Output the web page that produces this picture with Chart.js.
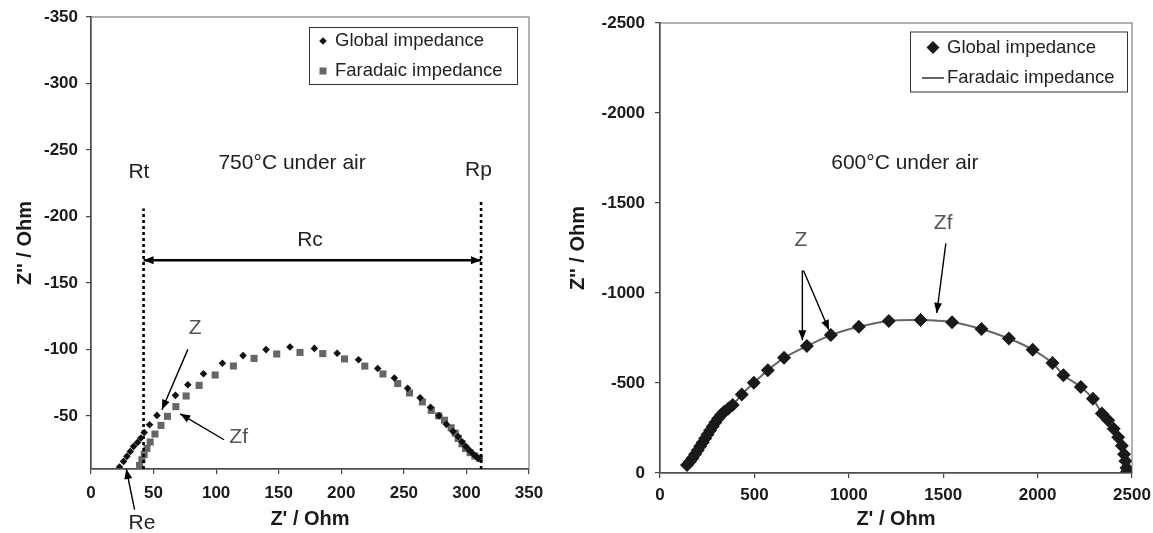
<!DOCTYPE html>
<html>
<head>
<meta charset="utf-8">
<script src="https://cdn.jsdelivr.net/npm/chart.js@4.4.1/dist/chart.umd.min.js"></script>
<style>
  html, body { margin: 0; padding: 0; background: #fff; }
  #wrap { position: relative; width: 1153px; height: 533px; }
  #left { position: absolute; left: 0; top: 0; }
  #right { position: absolute; left: 553px; top: 0; }
</style>
</head>
<body>
<div id="wrap">
  <canvas id="left" width="553" height="533"></canvas>
  <canvas id="right" width="600" height="533"></canvas>
</div>
<script>
// ---- 750°C data (Z' , Z'') ----
const globalRe750 = [22.8, 26, 28.7, 31.4, 34, 37.2, 39.9, 42.5, 46.8, 52.7, 67.5, 77.4, 89.9, 105, 121.5, 139.9, 159, 178.5, 196.7, 213.8, 229.1, 242.4, 253, 263, 271.3, 278.1, 284, 289.3, 293.4, 296.5, 299.5, 302.5, 305.2, 307.5, 309.6];
const globalIm750 = [-11.5, -15.7, -19.5, -23.2, -27, -30, -33.3, -37.5, -43.3, -50.3, -65.4, -73.4, -81.7, -89.5, -95.3, -99.8, -101.8, -100.7, -97.1, -92.2, -85.6, -78.4, -70.7, -63.6, -56.4, -50, -43.6, -38.2, -34.4, -30.5, -27, -24, -21.5, -19.5, -18];
const faraRe750 = [38.8, 40.7, 42.5, 44.7, 47.3, 51.1, 55.9, 61.1, 67.8, 76, 86.4, 99.2, 113.8, 130.3, 148.4, 167, 185.2, 202.6, 218.8, 233.3, 245.1, 254.5, 264.8, 271.9, 277.8, 282.5, 287.8, 291, 293.4, 296.4, 299.3, 302.9, 306.7, 310.5];
const faraIm750 = [-12.7, -17, -21, -25.5, -30.3, -36.3, -42.8, -49.6, -56.9, -64.9, -72.9, -80.7, -87.5, -93.2, -96.5, -97.7, -96.8, -92.8, -87.4, -81.5, -74.3, -67.2, -60.5, -54.1, -50, -46.7, -41, -37, -33, -29, -25.4, -22.3, -19.8, -18];
const xTicks750 = [0, 50, 100, 150, 200, 250, 300, 350];
const yTicks750 = [-350, -300, -250, -200, -150, -100, -50];

// ---- 600°C data ----
const globalRe600 = [143, 158, 172, 186, 200, 213, 226, 239, 252, 265, 279, 293, 308, 323, 340, 362, 385, 433, 497, 571, 657, 778, 905, 1053, 1212, 1380, 1547, 1703, 1848, 1974, 2079, 2137, 2229, 2293, 2340, 2374, 2403, 2427, 2446, 2458, 2465, 2471, 2474];
const globalIm600 = [-45, -62, -82, -104, -126, -148, -170, -192, -214, -236, -259, -281, -303, -322, -340, -358, -378, -436, -501, -571, -640, -705, -766, -812, -845, -850, -838, -800, -747, -685, -611, -543, -478, -412, -331, -293, -246, -199, -151, -104, -66, -28, -8];
const faraRe600 = [143, 200, 265, 340, 385, 433, 497, 571, 657, 778, 905, 1053, 1212, 1380, 1547, 1703, 1848, 1974, 2079, 2137, 2229, 2293, 2340, 2403, 2446, 2465, 2474];
const faraIm600 = [-45, -126, -236, -340, -378, -436, -501, -571, -640, -705, -766, -812, -845, -850, -838, -800, -747, -685, -611, -543, -478, -412, -331, -246, -151, -66, -8];
const xTicks600 = [0, 500, 1000, 1500, 2000, 2500];
const yTicks600 = [-2500, -2000, -1500, -1000, -500, 0];

const FONT = 'Arial, "Liberation Sans", sans-serif';

function toPoints(xs, ys) {
  return xs.map((v, i) => ({ x: v, y: ys[i] }));
}

function drawArrow(ctx, x1, y1, x2, y2, both) {
  ctx.beginPath();
  ctx.moveTo(x1, y1);
  ctx.lineTo(x2, y2);
  ctx.stroke();
  const head = (ax, ay, bx, by) => {
    const ang = Math.atan2(by - ay, bx - ax);
    const len = 10, w = 4;
    ctx.beginPath();
    ctx.moveTo(bx, by);
    ctx.lineTo(bx - len * Math.cos(ang) + w * Math.sin(ang), by - len * Math.sin(ang) - w * Math.cos(ang));
    ctx.lineTo(bx - len * Math.cos(ang) - w * Math.sin(ang), by - len * Math.sin(ang) + w * Math.cos(ang));
    ctx.closePath();
    ctx.fill();
  };
  head(x1, y1, x2, y2);
  if (both) head(x2, y2, x1, y1);
}

function drawMarker(ctx, m, x, y) {
  ctx.fillStyle = m.color;
  ctx.strokeStyle = m.color;
  if (m.kind === 'diamond') {
    ctx.beginPath();
    ctx.moveTo(x, y - m.size);
    ctx.lineTo(x + m.size, y);
    ctx.lineTo(x, y + m.size);
    ctx.lineTo(x - m.size, y);
    ctx.closePath();
    ctx.fill();
  } else if (m.kind === 'square') {
    ctx.fillRect(x - m.size, y - m.size, m.size * 2, m.size * 2);
  } else {
    ctx.lineWidth = 2;
    ctx.beginPath();
    ctx.moveTo(x - m.size, y);
    ctx.lineTo(x + m.size, y);
    ctx.stroke();
  }
}

// frame, dotted lines, arrows, notes and legend box
const notesPlugin = {
  id: 'notes',
  afterDatasetsDraw(chart, args, opts) {
    const { ctx, chartArea: a } = chart;
    const px = v => chart.scales.x.getPixelForValue(v);
    const py = v => chart.scales.y.getPixelForValue(v);
    ctx.save();
    ctx.strokeStyle = '#666';
    ctx.lineWidth = 1;
    ctx.strokeRect(a.left, a.top, a.right - a.left, a.bottom - a.top);

    ctx.strokeStyle = '#000';
    ctx.lineWidth = 2.6;
    ctx.setLineDash([3, 3]);
    (opts.dotted || []).forEach(d => {
      ctx.beginPath();
      ctx.moveTo(px(d.x), py(d.y1));
      ctx.lineTo(px(d.x), py(d.y2));
      ctx.stroke();
    });
    ctx.setLineDash([]);

    (opts.arrows || []).forEach(r => {
      ctx.strokeStyle = '#000';
      ctx.fillStyle = '#000';
      ctx.lineWidth = r.width || 1.4;
      drawArrow(ctx, px(r.x1), py(r.y1), px(r.x2), py(r.y2), r.both);
    });

    ctx.textAlign = 'center';
    ctx.textBaseline = 'middle';
    (opts.texts || []).forEach(t => {
      ctx.fillStyle = t.color || '#222';
      ctx.font = '21px ' + FONT;
      ctx.fillText(t.text, px(t.x), py(t.y));
    });

    const lg = opts.legend;
    if (lg) {
      const bx = a.right - lg.right - lg.width;
      const by = a.top + lg.top;
      ctx.fillStyle = '#fff';
      ctx.fillRect(bx, by, lg.width, lg.height);
      ctx.strokeStyle = '#333';
      ctx.lineWidth = 1;
      ctx.strokeRect(bx + 0.5, by + 0.5, lg.width, lg.height);
      ctx.textAlign = 'left';
      lg.rows.forEach((row, i) => {
        const ry = by + lg.rowY[i];
        drawMarker(ctx, row.marker, bx + lg.markerX, ry);
        ctx.fillStyle = '#222';
        ctx.font = '18.5px ' + FONT;
        ctx.fillText(row.label, bx + lg.textX, ry);
      });
    }
    ctx.restore();
  }
};

function makeScales(xMin, xMax, xTicks, yMin, yMax, yTicks, yWidth, xHeight, yPad, xPad) {
  const tickFont = { family: FONT, size: 17, weight: 'bold' };
  const titleFont = { family: FONT, size: 20, weight: 'bold' };
  return {
    x: {
      type: 'linear',
      position: 'bottom',
      min: xMin,
      max: xMax,
      afterBuildTicks: s => { s.ticks = xTicks.map(v => ({ value: v })); },
      afterFit: s => { s.height = xHeight; s.paddingLeft = 0; s.paddingRight = 0; },
      ticks: { font: tickFont, color: '#1a1a1a', padding: xPad, maxRotation: 0, callback: v => String(v) },
      grid: { drawOnChartArea: false, drawTicks: true, tickLength: 5, color: '#444', lineWidth: 1.2 },
      border: { color: '#333', width: 1.5 },
      title: { display: true, text: "Z' / Ohm", font: titleFont, color: '#1a1a1a', padding: { top: 0, bottom: 2 } }
    },
    y: {
      type: 'linear',
      reverse: true,
      min: yMin,
      max: yMax,
      afterBuildTicks: s => { s.ticks = yTicks.map(v => ({ value: v })); },
      afterFit: s => { s.width = yWidth; s.paddingTop = 0; s.paddingBottom = 0; },
      ticks: { font: tickFont, color: '#1a1a1a', padding: yPad, callback: v => String(v) },
      grid: { drawOnChartArea: false, drawTicks: true, tickLength: 5, color: '#444', lineWidth: 1.2 },
      border: { color: '#333', width: 1.5 },
      title: { display: true, text: "Z'' / Ohm", font: titleFont, color: '#1a1a1a', padding: { top: 13, bottom: 0 } }
    }
  };
}

// 750°C chart
new Chart(document.getElementById('left').getContext('2d'), {
  type: 'scatter',
  data: {
    datasets: [
      {
        label: 'Global impedance',
        data: toPoints(globalRe750, globalIm750),
        pointStyle: 'rectRot',
        pointRadius: 3.8,
        backgroundColor: '#111',
        borderWidth: 0
      },
      {
        label: 'Faradaic impedance',
        data: toPoints(faraRe750, faraIm750),
        pointStyle: 'rect',
        pointRadius: 5,
        backgroundColor: '#666',
        borderWidth: 0
      }
    ]
  },
  options: {
    responsive: false,
    animation: false,
    devicePixelRatio: 1,
    layout: { padding: { left: 0, top: 17, right: 24, bottom: 0 } },
    scales: makeScales(0, 350, xTicks750, -350, -10, yTicks750, 91, 64, 8, 9),
    plugins: {
      legend: { display: false },
      tooltip: { enabled: false },
      notes: {
        dotted: [
          { x: 42, y1: -10, y2: -206 },
          { x: 311.7, y1: -10, y2: -212 }
        ],
        arrows: [
          { x1: 42, y1: -167, x2: 311.7, y2: -167, both: true, width: 2.6 },
          { x1: 77.4, y1: -100, x2: 56.7, y2: -54.6 },
          { x1: 106.3, y1: -32, x2: 71.3, y2: -51.5 },
          { x1: 34.8, y1: 20.6, x2: 28.2, y2: -10 }
        ],
        texts: [
          { text: 'Rt', x: 38.3, y: -233 },
          { text: '750°C under air', x: 160.7, y: -240 },
          { text: 'Rp', x: 309.6, y: -235 },
          { text: 'Rc', x: 175, y: -182 },
          { text: 'Z', x: 83.2, y: -116, color: '#555' },
          { text: 'Zf', x: 118, y: -34, color: '#555' },
          { text: 'Re', x: 40.7, y: 31 }
        ],
        legend: {
          right: 12, top: 10, width: 208, height: 57,
          markerX: 14, textX: 26, rowY: [14, 44],
          rows: [
            { label: 'Global impedance', marker: { kind: 'diamond', size: 3.8, color: '#111' } },
            { label: 'Faradaic impedance', marker: { kind: 'square', size: 3.5, color: '#666' } }
          ]
        }
      }
    }
  },
  plugins: [notesPlugin]
});

// 600°C chart
new Chart(document.getElementById('right').getContext('2d'), {
  type: 'scatter',
  data: {
    datasets: [
      {
        label: 'Global impedance',
        data: toPoints(globalRe600, globalIm600),
        pointStyle: 'rectRot',
        pointRadius: 7,
        backgroundColor: '#1a1a1a',
        borderWidth: 0
      },
      {
        label: 'Faradaic impedance',
        data: toPoints(faraRe600, faraIm600),
        showLine: true,
        borderColor: '#666',
        borderWidth: 2,
        pointRadius: 0,
        tension: 0.3
      }
    ]
  },
  options: {
    responsive: false,
    animation: false,
    devicePixelRatio: 1,
    layout: { padding: { left: 0, top: 23, right: 21, bottom: 0 } },
    scales: makeScales(0, 2500, xTicks600, -2500, 0, yTicks600, 107, 60, 10, 7),
    plugins: {
      legend: { display: false },
      tooltip: { enabled: false },
      notes: {
        arrows: [
          { x1: 754, y1: -1125, x2: 754, y2: -737 },
          { x1: 760, y1: -1125, x2: 895, y2: -794 },
          { x1: 1514, y1: -1276, x2: 1466, y2: -889 }
        ],
        texts: [
          { text: '600°C under air', x: 1297, y: -1721 },
          { text: 'Z', x: 746, y: -1292, color: '#555' },
          { text: 'Zf', x: 1500, y: -1390, color: '#555' }
        ],
        legend: {
          right: 5, top: 8.5, width: 217, height: 60,
          markerX: 23, textX: 37, rowY: [16, 46.5],
          rows: [
            { label: 'Global impedance', marker: { kind: 'diamond', size: 6.5, color: '#1a1a1a' } },
            { label: 'Faradaic impedance', marker: { kind: 'line', size: 11, color: '#666' } }
          ]
        }
      }
    }
  },
  plugins: [notesPlugin]
});
</script>
</body>
</html>
